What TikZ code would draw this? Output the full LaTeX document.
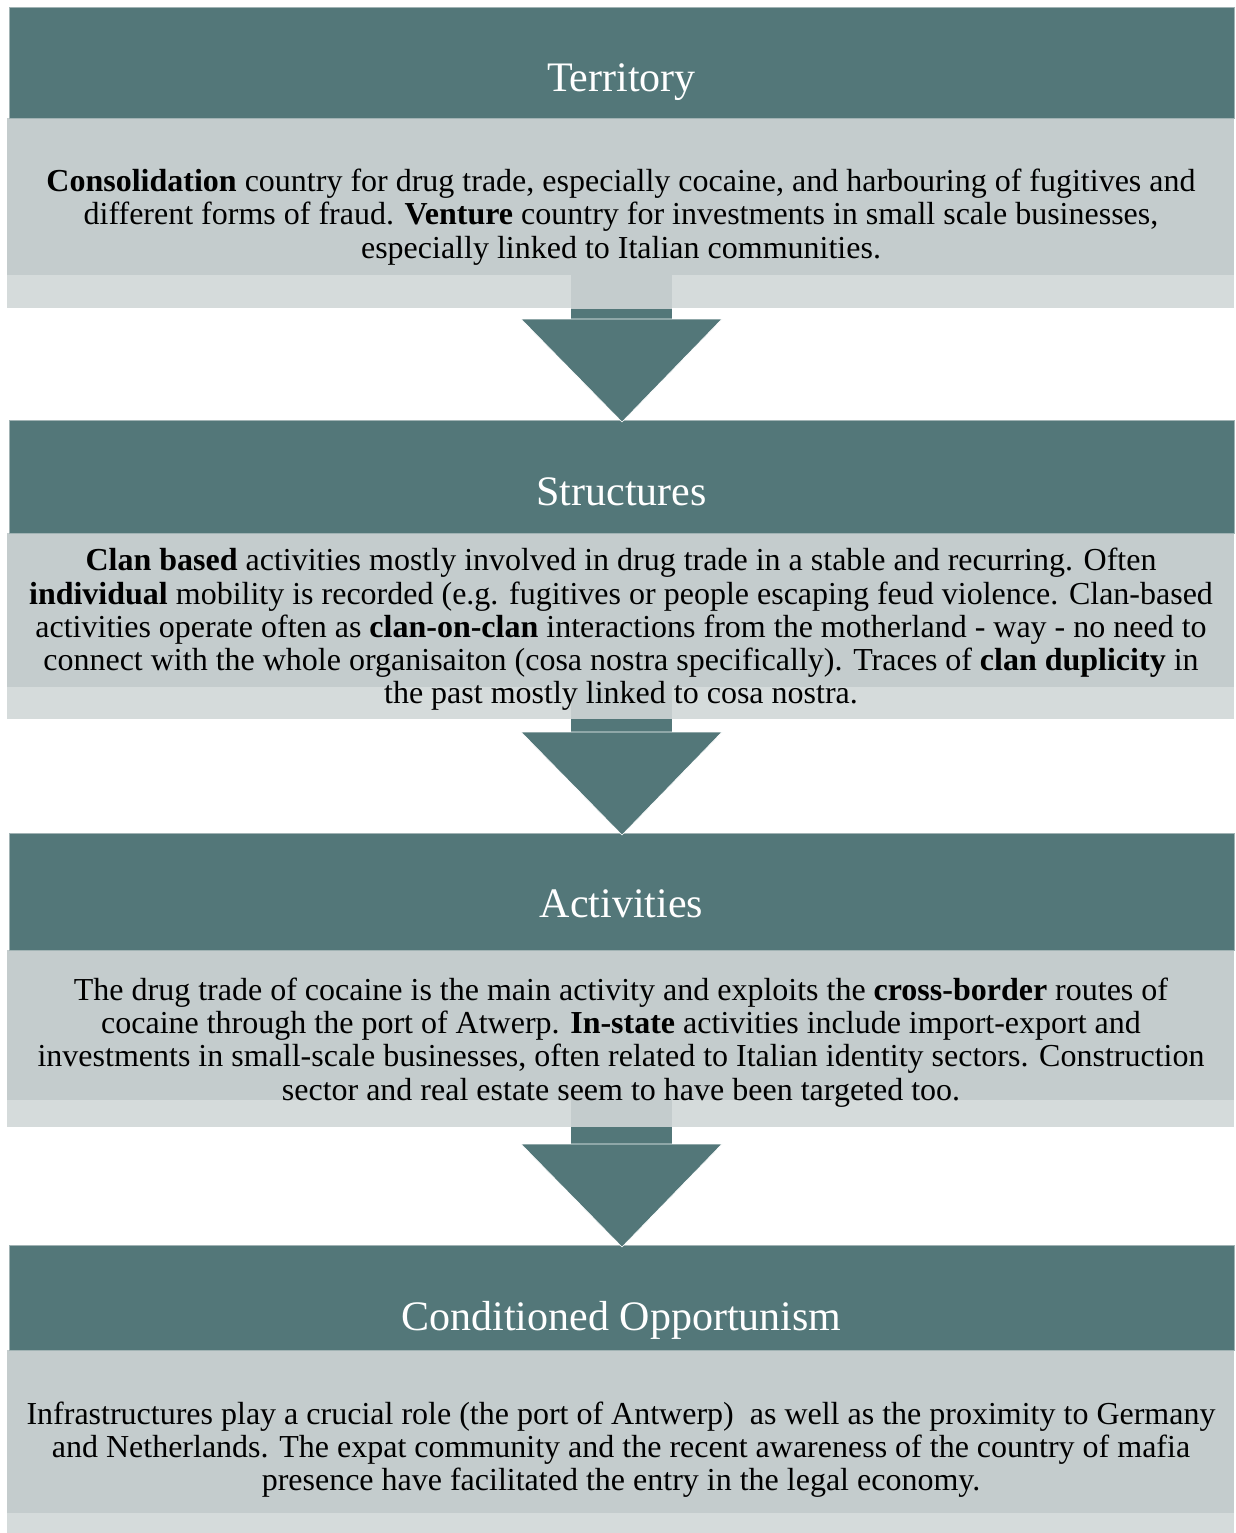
\documentclass[tikz,border=0pt]{standalone}
\usepackage{fontspec}
\setmainfont{Liberation Serif}
\usetikzlibrary{calc}

\definecolor{hdrcol}{HTML}{537779}
\definecolor{bodycol}{HTML}{C4CCCD}
\definecolor{stripcol}{HTML}{D5DBDB}

\tikzset{
  header/.style={fill=hdrcol, draw=stripcol!60!hdrcol, line width=0.6pt, text=white, inner sep=0pt,
    minimum width=1225pt, font=\fontsize{42}{48}\selectfont},
  headlab/.style={text=white, font=\fontsize{42}{48}\selectfont, anchor=base},
  bodytext/.style={align=center, inner sep=0pt, font=\fontsize{32}{33.2}\selectfont},
  stemgray/.style={fill=bodycol},
  stemteal/.style={fill=hdrcol},
  arrowhead/.style={fill=hdrcol, draw=white, line width=0.6pt, line join=miter},
}

\begin{document}
\begin{tikzpicture}[x=1pt,y=-1pt]
  \useasboundingbox (0,0) rectangle (1235,1533);

  % boxes
  \fill[stripcol] (7,275) rectangle (1234,308);
  \fill[bodycol] (7,118) rectangle (1234,275);
  \node[header, minimum height=111pt] (ter) at (621.5,62.5) {};
  \fill[stripcol] (7,687) rectangle (1234,719);
  \fill[bodycol] (7,533) rectangle (1234,687);
  \node[header, minimum height=113pt] (str) at (621.5,476.5) {};
  \fill[stripcol] (7,1100) rectangle (1234,1127);
  \fill[bodycol] (7,950) rectangle (1234,1100);
  \node[header, minimum height=117pt] (act) at (621.5,891.5) {};
  \fill[stripcol] (7,1513) rectangle (1234,1533);
  \fill[bodycol] (7,1350) rectangle (1234,1513);
  \node[header, minimum height=105pt] (opp) at (621.5,1297.5) {};

  % arrows
  \fill[stemgray] (571,275) rectangle (672,309);
  \fill[stemteal] (571,309) rectangle (672,320);
  \filldraw[arrowhead] (521,319) -- (722,319) -- (622,422) -- cycle;
  \fill[stemgray] (571,687) rectangle (672,719);
  \fill[stemteal] (571,719) rectangle (672,733);
  \filldraw[arrowhead] (521,732) -- (722,732) -- (622,835) -- cycle;
  \fill[stemgray] (571,1100) rectangle (672,1127);
  \fill[stemteal] (571,1127) rectangle (672,1145);
  \filldraw[arrowhead] (521,1144) -- (722,1144) -- (622,1247) -- cycle;

  % texts
  \node[headlab] (terlab) at (621.5,92) {Territory};
  \node[bodytext] (tertext) at (621,217)
    {\textbf{Consolidation} country for drug trade, especially cocaine, and harbouring of fugitives and\\
     different forms of fraud. \textbf{Venture} country for investments in small scale businesses,\\
     especially linked to Italian communities.};

  \node[headlab] (strlab) at (621.5,505) {Structures};
  \node[bodytext] (strtext) at (621,629.5)
    {\textbf{Clan based} activities mostly involved in drug trade in a stable and recurring. Often\\
     \textbf{individual} mobility is recorded (e.g. fugitives or people escaping feud violence. Clan-based\\
     activities operate often as \textbf{clan-on-clan} interactions from the motherland - way - no need to\\
     connect with the whole organisaiton (cosa nostra specifically). Traces of \textbf{clan duplicity} in\\
     the past mostly linked to cosa nostra.};

  \node[headlab] (actlab) at (621.5,917) {Activities};
  \node[bodytext] (acttext) at (621,1042.5)
    {The drug trade of cocaine is the main activity and exploits the \textbf{cross-border} routes of\\
     cocaine through the port of Atwerp. \textbf{In-state} activities include import-export and\\
     investments in small-scale businesses, often related to Italian identity sectors. Construction\\
     sector and real estate seem to have been targeted too.};

  \node[headlab] (opplab) at (621.5,1330) {Conditioned Opportunism};
  \node[bodytext] (opptext) at (621,1449.5)
    {Infrastructures play a crucial role (the port of Antwerp)\ \ as well as the proximity to Germany\\
     and Netherlands. The expat community and the recent awareness of the country of mafia\\
     presence have facilitated the entry in the legal economy.};
\end{tikzpicture}
\end{document}
